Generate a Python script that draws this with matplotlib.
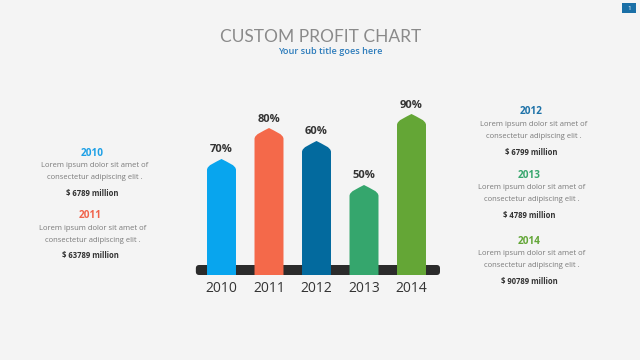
import matplotlib.pyplot as plt
from matplotlib.path import Path
from matplotlib.patches import PathPatch, FancyBboxPatch, Rectangle

years = ["2010", "2011", "2012", "2013", "2014"]
pct_labels = ["70%", "80%", "60%", "50%", "90%"]
bar_heights = [116, 147, 134, 90, 161]   # tip height above base
amounts = ["$ 6789 million", "$ 63789 million", "$ 6799 million",
           "$ 4789 million", "$ 90789 million"]
bar_colors = ["#08A5EE", "#F4694A", "#036A9E", "#35A66D", "#64A636"]
head_colors = ["#1EA0E6", "#F0634B", "#1E72A8", "#38A66E", "#63A637"]
lorem = "Lorem ipsum dolor sit amet of\nconsectetur adipiscing elit ."

BG = "#F4F4F4"
plt.rcParams['font.family'] = ['Open Sans', 'DejaVu Sans']

fig = plt.figure(figsize=(6.4, 3.6), dpi=100, facecolor=BG)

# chart area: 47.5 px per category, 1 px per y unit
ax = fig.add_axes([180 / 640, 60 / 360, 280 / 640, 205 / 360])
ax.set_facecolor(BG)
ax.set_xlim((180 - 316.5) / 47.5 + 2, (460 - 316.5) / 47.5 + 2)
ax.set_ylim(-25, 180)
ax.axis('off')

# dark base rail
base = FancyBboxPatch((-0.54, 0), 5.14, 10,
                      boxstyle="round,pad=0,rounding_size=0.07",
                      mutation_aspect=47.5, fc="#2B2B2B", ec="none", zorder=1)
ax.add_patch(base)

w = 0.61
cap = 11
for i, h in enumerate(bar_heights):
    x0, x1, xc = i - w / 2, i + w / 2, i
    verts = [(x0, 0), (x0, h - cap),
             (x0, h - cap * 0.55), (xc - w * 0.2, h - cap * 0.3), (xc, h),
             (xc + w * 0.2, h - cap * 0.3), (x1, h - cap * 0.55), (x1, h - cap),
             (x1, 0), (x0, 0)]
    codes = [Path.MOVETO, Path.LINETO,
             Path.CURVE4, Path.CURVE4, Path.CURVE4,
             Path.CURVE4, Path.CURVE4, Path.CURVE4,
             Path.LINETO, Path.CLOSEPOLY]
    ax.add_patch(PathPatch(Path(verts, codes), fc=bar_colors[i], ec="none", zorder=2))
    ax.text(xc, h + 9, pct_labels[i], ha='center', va='center', fontsize=8,
            fontweight='bold', color="#333333")
    ax.text(xc, -13, years[i], ha='center', va='center', fontsize=10, color="#333333")

# titles
fig.text(321 / 640, 1 - 37 / 360, "CUSTOM PROFIT CHART", ha='center', va='center',
         fontsize=12.5, color="#8A8A8A", family=['Lato', 'DejaVu Sans'])
fig.text(330 / 640, 1 - 51 / 360, "Your sub title goes here", ha='center', va='center',
         fontsize=6.6, color="#2B7BBB", fontweight='semibold')

# side descriptions: (centre x, year y) in pixels
blocks = [(92, 153), (90, 216), (531, 112), (529, 175), (529, 241)]
for i, (bx, by) in enumerate(blocks):
    fig.text(bx / 640, 1 - by / 360, years[i], ha='center', va='center',
             fontsize=7.2, fontweight='bold', color=head_colors[i])
    fig.text((bx + 3) / 640, 1 - (by + 18.5) / 360, lorem, ha='center', va='center',
             fontsize=5.5, color="#7A7A7A", linespacing=2.15)
    fig.text(bx / 640, 1 - (by + 40) / 360, amounts[i], ha='center', va='center',
             fontsize=5.5, fontweight='bold', color="#333333")

# page number badge
fig.patches.append(Rectangle((622 / 640, 1 - 13 / 360), 14 / 640, 10 / 360,
                             transform=fig.transFigure, fc="#1A6FA6", ec="none"))
fig.text(629 / 640, 1 - 8 / 360, "1", ha='center', va='center', fontsize=4.5,
         color="white")

fig.savefig("out.png", dpi=100, facecolor=BG)
